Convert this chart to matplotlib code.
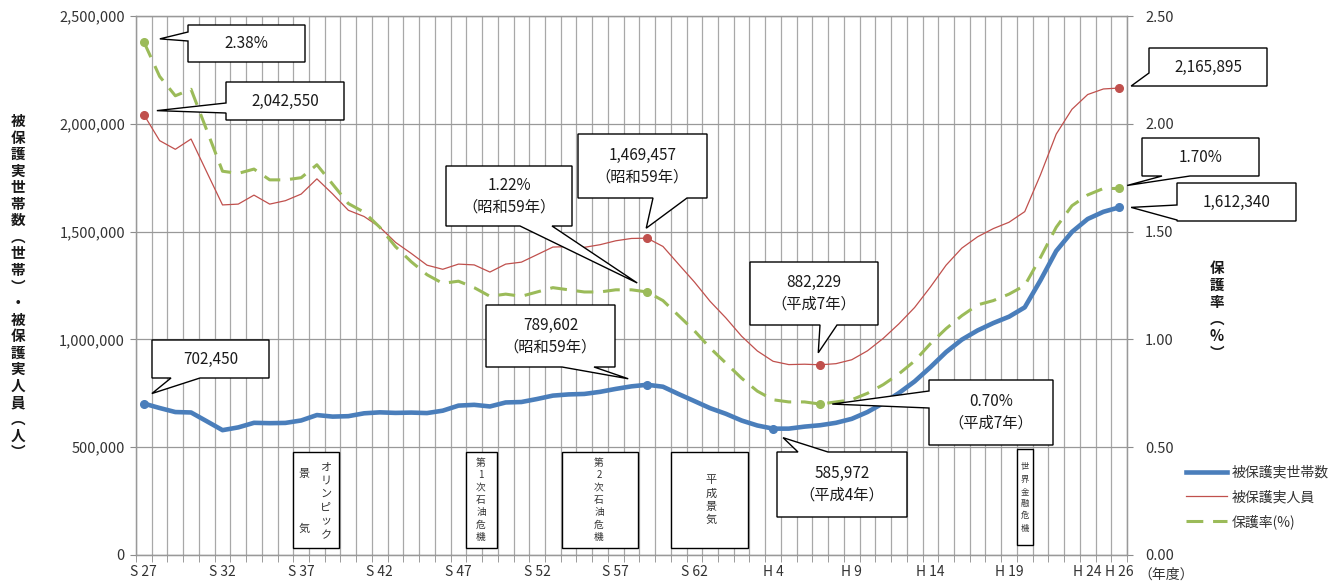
import numpy as np
import matplotlib.pyplot as plt
from matplotlib.patches import Polygon, Rectangle
from matplotlib.lines import Line2D

plt.rcParams['font.family'] = ['Noto Sans CJK JP', 'DejaVu Sans']

# fiscal years S27 (1952) .. H26 (2014)
years = [f"S{n}" for n in range(27, 64)] + [f"H{n}" for n in range(1, 27)]

households = [
    702450, 681838, 663060, 661036, 620252, 579037, 591861, 613106, 611456, 612666,
    624012, 649073, 641869, 643905, 657193, 661647, 659096, 660509, 658277, 669354,
    692874, 696540, 688984, 707514, 709613, 723587, 739244, 744841, 746997, 756726,
    770388, 782265, 789602, 780507, 746355, 713825, 681018, 654915, 623755, 600697,
    585972, 586106, 595407, 601925, 613106, 631488, 663060, 704055, 751303, 805169,
    870931, 941270, 998887, 1041508, 1075820, 1105275, 1148766, 1274231, 1410049, 1498375,
    1558510, 1591846, 1612340,
]
persons = [
    2042550, 1922060, 1881687, 1929408, 1775971, 1623744, 1627509, 1669180, 1627509, 1643445,
    1674001, 1744639, 1674661, 1598821, 1570054, 1520733, 1449970, 1398725, 1344306, 1325218,
    1349230, 1345549, 1312339, 1349230, 1358316, 1393128, 1428261, 1430488, 1426984, 1439226,
    1457383, 1468245, 1469457, 1431117, 1348163, 1266126, 1176258, 1099520, 1014842, 946374,
    898499, 883112, 884912, 882229, 887450, 905589, 946994, 1004472, 1072241, 1148088,
    1242723, 1344327, 1423388, 1475838, 1513892, 1543321, 1592620, 1763572, 1952063, 2067244,
    2135708, 2161612, 2165895,
]
rate = [
    2.38, 2.22, 2.13, 2.16, 1.97, 1.78, 1.77, 1.79, 1.74, 1.74,
    1.75, 1.81, 1.72, 1.63, 1.59, 1.52, 1.43, 1.36, 1.30, 1.26,
    1.27, 1.24, 1.20, 1.21, 1.20, 1.22, 1.24, 1.23, 1.22, 1.22,
    1.23, 1.23, 1.22, 1.18, 1.11, 1.04, 0.96, 0.89, 0.82, 0.76,
    0.72, 0.71, 0.71, 0.70, 0.71, 0.72, 0.75, 0.79, 0.84, 0.90,
    0.98, 1.05, 1.11, 1.16, 1.18, 1.21, 1.25, 1.38, 1.52, 1.62,
    1.67, 1.70, 1.70,
]
tick_years = ["S27", "S32", "S37", "S42", "S47", "S52", "S57", "S62",
              "H4", "H9", "H14", "H19", "H24", "H26"]

c_blue, c_red, c_green = '#4a7ebb', '#c0504d', '#9bbb59'
green_dash = (5.5, 3.2)
n = len(years)
x = np.arange(n)

fig = plt.figure(figsize=(13.38, 5.85), dpi=100)
L, R, T, B = 136, 1127, 16, 555
ax = fig.add_axes([L / 1338, 1 - B / 585, (R - L) / 1338, (B - T) / 585])
ax2 = ax.twinx()

ax.plot(x, households, color=c_blue, lw=3.3, solid_capstyle='round', zorder=4)
ax.plot(x, persons, color=c_red, lw=0.9, zorder=3)
ax2.plot(x, rate, color=c_green, lw=2.2, dashes=green_dash, zorder=3)

# dots on the annotated years
hi = [years.index(y) for y in ["S27", "S59", "H4", "H26"]]
pi = [years.index(y) for y in ["S27", "S59", "H7", "H26"]]
ri = [years.index(y) for y in ["S27", "S59", "H7", "H26"]]
ax.plot(hi, [households[i] for i in hi], 'o', color=c_blue, ms=5.5, zorder=5)
ax.plot(pi, [persons[i] for i in pi], 'o', color=c_red, ms=5.5, zorder=5)
ax2.plot(ri, [rate[i] for i in ri], 'o', color=c_green, ms=5.5, zorder=5)

ax.set_xlim(-0.5, n - 0.5)
ax.set_ylim(0, 2500000)
ax2.set_ylim(0, 2.5)
ax.set_yticks(np.arange(0, 2500001, 500000))
ax.set_yticklabels([f"{v:,}" for v in range(0, 2500001, 500000)])
ax2.set_yticks(np.arange(0, 2.51, 0.5))
ax2.set_yticklabels([f"{v:.2f}" for v in np.arange(0, 2.51, 0.5)])

tpos = [years.index(t) for t in tick_years]
ax.set_xticks(tpos)
ax.set_xticklabels([t[0] + " " + t[1:] for t in tick_years])
ax.set_xticks(np.arange(-0.5, n, 1), minor=True)
ax.tick_params(axis='x', which='major', length=0, pad=7, labelsize=10, labelcolor='#333333')
ax.tick_params(axis='x', which='minor', length=5, color='#8c8c8c', direction='out')
ax.tick_params(axis='y', length=4, color='#8c8c8c', labelsize=10.5, labelcolor='#333333', pad=4)
ax2.tick_params(axis='y', length=4, color='#8c8c8c', labelsize=10.5, labelcolor='#333333', pad=9)
ax.grid(True, axis='x', which='minor', color='#a8a8a8', lw=0.9)
ax.grid(True, axis='y', which='major', color='#999999', lw=0.9)
ax.set_axisbelow(True)
for a in (ax, ax2):
    for s in a.spines.values():
        s.set_color('#999999')
        s.set_linewidth(0.9)
ax.spines['bottom'].set_color('#8c8c8c')

fig.text(1138 / 1338, 1 - 575 / 585, "（年度）", fontsize=10, color='#333333',
         va='center', ha='left')

# stacked axis titles
def stacked(chars, xc, ys, **kw):
    for ch, yy in zip(chars, ys):
        fig.text(xc / 1338, 1 - yy / 585, ch, ha='center', va='center', **kw)

left_title = list("被保護実世帯数︵世帯︶・被保護実人員︵人︶")
stacked(left_title, 18, np.linspace(121, 452, len(left_title)),
        fontsize=10.5, fontweight='bold', color='#1a1a1a')
stacked(list("保護率︵%︶"), 1217, [268, 285, 302, 319, 336, 353],
        fontsize=10.5, fontweight='bold', color='#1a1a1a')

# pixel <-> data helpers for the annotation layer
def to_data(px, py):
    return ((px - L) / (R - L) * n - 0.5, (B - py) / (B - T) * 2500000)

def to_px(i, v):
    return (L + (i + 0.5) / n * (R - L), B - v / 2500000 * (B - T))

def callout(text, box, side, base, point, offset, size=11):
    x0, y0, x1, y1 = box
    a, b = base
    tx, ty = to_px(*point)
    tip = (tx + offset[0], ty + offset[1])
    pts = [(x0, y0)]
    if side == 'top':
        pts += [(a, y0), tip, (b, y0)]
    pts += [(x1, y0), (x1, y1)]
    if side == 'bottom':
        pts += [(b, y1), tip, (a, y1)]
    pts += [(x0, y1)]
    if side == 'left':
        pts += [(x0, b), tip, (x0, a)]
    poly = Polygon([to_data(*p) for p in pts], closed=True, facecolor='white',
                   edgecolor='black', lw=1.0, transform=ax.transData,
                   clip_on=False, zorder=20)
    ax2.add_patch(poly)
    cx, cy = to_data((x0 + x1) / 2, (y0 + y1) / 2)
    ax2.text(cx, cy, text, transform=ax.transData, ha='center', va='center',
             fontsize=size, color='#1a1a1a', linespacing=1.35, zorder=21)

i59, i4, i7, i26 = years.index("S59"), years.index("H4"), years.index("H7"), years.index("H26")
callout(f"{rate[0]:.2f}%", (188, 25, 305, 62), 'left', (32, 41), (0, rate[0] * 1e6), (16, -3))
callout(f"{persons[0]:,}", (226, 82, 344, 120), 'left', (103, 113), (0, persons[0]), (13, -4))
callout(f"{households[0]:,}", (152, 340, 269, 378), 'bottom', (171, 200), (0, households[0]), (8, -10))
callout(f"{rate[i59]:.2f}%\n（昭和59年）", (446, 166, 572, 226), 'bottom', (520, 552),
        (i59, rate[i59] * 1e6), (-10, -9))
callout(f"{persons[i59]:,}\n（昭和59年）", (578, 134, 707, 198), 'bottom', (653, 687),
        (i59, persons[i59]), (-1, -10))
callout(f"{households[i59]:,}\n（昭和59年）", (486, 305, 615, 367), 'bottom', (562, 594),
        (i59, households[i59]), (-19, -6))
callout(f"{persons[i7]:,}\n（平成7年）", (750, 262, 878, 325), 'bottom', (820, 837),
        (i7, persons[i7]), (-2, -12))
callout(f"{rate[i7]:.2f}%\n（平成7年）", (929, 380, 1053, 445), 'left', (391, 408),
        (i7, rate[i7] * 1e6), (12, 0))
callout(f"{households[i4]:,}\n（平成4年）", (777, 452, 907, 517), 'top', (798, 828),
        (i4, households[i4]), (10, 9))
callout(f"{persons[i26]:,}", (1149, 48, 1267, 86), 'left', (73, 86), (i26, persons[i26]), (12, -2))
callout(f"{rate[i26]:.2f}%", (1142, 138, 1259, 176), 'bottom', (1162, 1190),
        (i26, rate[i26] * 1e6), (8, -3))
callout(f"{households[i26]:,}", (1177, 183, 1296, 221), 'left', (205, 220),
        (i26, households[i26]), (12, 0))

# economic events
def event_box(box, columns):
    x0, y0, x1, y1 = box
    (dx0, dy0), (dx1, dy1) = to_data(x0, y1), to_data(x1, y0)
    ax.add_patch(Rectangle((dx0, dy0), dx1 - dx0, dy1 - dy0, facecolor='white',
                           edgecolor='black', lw=1.0, zorder=2))
    for chars, xc, ys, size in columns:
        for ch, yy in zip(chars, ys):
            tx, ty = to_data(xc, yy)
            ax.text(tx, ty, ch, ha='center', va='center', fontsize=size,
                    color='#333333', zorder=3)

oil_y = np.linspace(463, 537, 7)
event_box((293, 452, 339, 548), [
    (list("オリンピック"), 326, [468, 481, 494, 508, 521, 535], 8),
    (["景", "気"], 304, [474, 529], 8),
])
event_box((466, 452, 497, 548), [(list("第1次石油危機"), 481, oil_y, 7)])
event_box((562, 452, 638, 548), [(list("第2次石油危機"), 599, oil_y, 7)])
event_box((671, 452, 748, 548), [(list("平成景気"), 711, [480, 494, 507, 520], 8)])
event_box((1017, 449, 1033, 545), [(list("世界金融危機"), 1025, np.linspace(467, 528, 6), 6)])

handles = [Line2D([], [], color=c_blue, lw=3.3),
           Line2D([], [], color=c_red, lw=0.9),
           Line2D([], [], color=c_green, lw=2.2, dashes=green_dash)]
fig.legend(handles, ["被保護実世帯数", "被保護実人員", "保護率(%)"],
           loc='upper left', bbox_to_anchor=(1180 / 1338, 1 - 460 / 585),
           frameon=False, fontsize=10, handlelength=3.0, handletextpad=0.3,
           labelspacing=0.75, borderaxespad=0, labelcolor='#333333')

fig.savefig("out.png", dpi=100)
